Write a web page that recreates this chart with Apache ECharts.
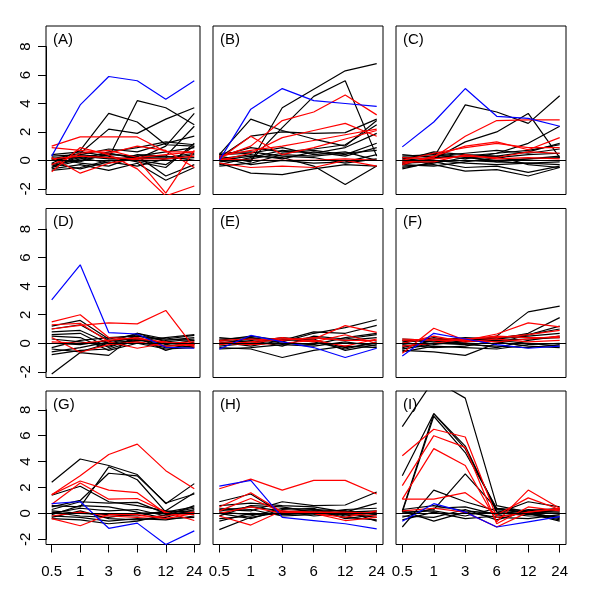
<!DOCTYPE html>
<html><head><meta charset="utf-8">
<script src="https://cdn.jsdelivr.net/npm/echarts@6/dist/echarts.min.js"></script>
<style>html,body{margin:0;padding:0;background:#fff}#c{width:600px;height:607px}</style>
</head><body><div id="c"></div>
<script>
const xLabels = ['0.5','1','3','6','12','24'];
const yTicks = [-2,0,2,4,6,8];
const panelNames = ['(A)','(B)','(C)','(D)','(E)','(F)','(G)','(H)','(I)'];

const A_black = [
 [0.0,0.3,0.2,4.2,3.7,2.5],[-0.2,0.7,3.3,2.7,1.1,1.0],[0.1,0.5,2.2,1.9,2.9,3.7],[-0.3,0.2,0.5,0.1,1.0,3.3],
 [0.0,0.3,0.1,0.2,0.3,2.4],[-0.5,0.0,0.4,0.3,-1.1,-0.3],[-0.6,-0.3,-0.7,-0.2,-1.4,-0.5],[0.3,0.4,0.8,0.6,1.2,1.7],
 [-0.4,0.1,0.6,0.9,1.3,1.1],[0.2,-0.2,-0.4,0.3,0.6,0.9],[-0.7,-0.5,0.0,0.1,0.2,0.5],[0.4,0.6,0.3,-0.1,-0.5,1.2],
 [-0.2,-0.6,-0.1,-0.4,0.1,0.2],[0.1,0.2,-0.2,0.4,0.3,0.0],[-0.5,0.4,0.2,0.0,-0.3,1.0],[0.0,-0.1,0.5,0.2,0.1,0.4]];
const A_red = [[1.0,1.65,1.65,1.65,0.6,0.6],[0.9,0.7,0.5,1.0,0.7,-0.5],[-0.8,0.9,0.4,-0.6,-2.5,-1.8],
 [0.2,-0.9,-0.2,0.1,-2.3,0.7],[0.1,0.3,0.2,0.1,0.1,0.3],[-0.3,0.5,0.7,0.2,0.4,0.6]];
const A_blue = [[0.3,3.9,5.9,5.6,4.3,5.6]];

const B_black = [
 [0.3,-0.1,3.7,5.0,6.3,6.8],[0.1,0.0,2.3,4.5,5.6,0.3],[0.4,2.9,2.1,1.5,1.0,2.8],[0.2,1.7,2.0,1.9,1.95,2.9],
 [-0.2,-0.9,-1.0,-0.6,-0.3,-0.4],[0.0,0.3,0.2,-0.4,-1.7,-0.4],[0.3,0.9,0.6,0.8,1.1,2.5],[-0.3,0.2,0.7,0.5,0.9,1.9],
 [0.1,0.4,0.1,0.6,0.3,0.9],[0.5,0.6,0.3,0.2,-0.2,0.1],[-0.4,-0.2,0.4,0.3,0.5,0.7],[0.2,-0.3,0.0,-0.2,-0.1,0.4],
 [-0.1,0.1,0.5,0.7,0.4,1.2],[0.4,0.5,0.9,0.4,0.6,0.0]];
const B_red = [[0.2,1.0,2.8,3.4,4.6,3.2],[0.0,0.5,1.6,2.1,2.6,1.7],[0.1,1.7,0.4,0.9,1.5,2.1],
 [-0.2,-0.5,-0.4,-0.5,0.0,-0.4],[0.1,0.0,0.0,0.0,0.1,0.0],[0.3,0.7,1.0,1.4,1.8,2.2]];
const B_blue = [[0.0,3.6,5.05,4.2,4.0,3.8]];

const C_black = [
 [-0.3,0.2,3.9,3.4,2.6,4.55],[-0.2,0.1,1.3,2.0,3.3,0.2],[0.0,0.2,0.3,0.5,1.2,2.4],[-0.4,-0.3,-0.75,-0.65,-1.1,-0.5],
 [-0.2,-0.1,-0.5,-0.4,-0.85,-0.4],[0.3,0.4,0.1,0.5,0.7,1.1],[-0.5,-0.2,0.2,0.3,0.6,1.2],[0.2,0.3,0.5,0.7,0.5,0.8],
 [-0.1,0.0,-0.2,-0.3,-0.2,-0.3],[0.1,0.5,0.2,0.0,0.1,0.3],[-0.3,-0.4,-0.1,0.2,0.4,0.5],[0.4,0.2,0.3,-0.1,-0.2,-0.1],
 [-0.6,-0.1,0.0,-0.1,0.1,0.2],[0.0,0.6,0.4,0.3,-0.3,-0.5]];
const C_red = [[-0.2,0.2,1.7,2.8,2.85,2.85],[-0.3,0.3,1.0,1.3,0.75,1.6],[0.0,0.5,0.9,1.2,0.9,0.9],
 [0.2,0.1,0.3,0.2,0.6,0.5],[-0.1,-0.1,0.4,0.1,0.2,0.1]];
const C_blue = [[0.95,2.7,5.05,3.1,2.95,2.4]];

const D_black = [
 [-2.15,-0.65,-0.85,0.7,0.3,0.55],[1.2,1.6,0.3,0.6,-0.1,0.2],[0.8,0.9,0.0,0.5,0.2,0.4],[0.6,0.7,-0.3,0.4,-0.5,0.1],
 [-0.8,-0.5,-0.4,0.2,0.0,-0.1],[-0.6,-0.3,0.1,0.7,0.1,0.3],[0.3,0.1,-0.2,0.3,-0.2,0.0],[-0.3,0.2,0.4,0.5,0.3,0.2],
 [0.0,-0.1,0.2,0.1,-0.3,-0.2],[-0.4,-0.6,0.0,0.2,0.4,0.6],[1.0,1.3,0.2,0.3,0.0,-0.1],[0.5,0.4,-0.5,0.0,-0.4,-0.3]];
const D_red = [[1.5,2.0,0.4,0.3,0.1,-0.2],[1.0,1.25,1.43,1.36,2.3,-0.3],[0.4,-0.63,-0.1,0.1,-0.2,-0.1],
 [1.3,1.4,0.1,-0.35,0.0,-0.1],[0.1,0.0,0.2,0.4,0.0,0.1]];
const D_blue = [[3.05,5.5,0.75,0.65,-0.28,-0.35]];

const E_black = [
 [0.3,0.4,0.1,0.7,1.1,1.65],[0.2,0.5,0.2,0.8,0.7,1.25],[-0.3,-0.4,-1.0,-0.5,-0.2,-0.3],[0.4,0.2,-0.2,0.5,0.3,0.6],
 [-0.2,0.0,0.3,0.1,-0.4,0.1],[0.0,0.3,0.2,0.4,0.2,0.4],[-0.4,-0.3,-0.1,-0.2,0.1,-0.2],[0.2,0.1,0.4,0.2,-0.3,0.0],
 [-0.1,0.4,0.0,-0.1,0.4,0.7],[0.1,-0.2,0.2,0.3,-0.5,-0.1]];
const E_red = [[0.1,0.0,0.3,0.3,1.24,0.77],[0.2,0.3,0.2,0.4,0.2,0.2],[-0.1,0.1,0.4,0.1,0.6,0.0],[0.0,-0.1,0.0,0.2,-0.2,0.3]];
const E_blue = [[-0.4,0.55,0.1,-0.3,-1.0,-0.35]];

const F_black = [
 [-0.2,0.0,0.1,0.5,2.2,2.6],[-0.4,-0.1,0.2,0.3,0.7,1.8],[-0.5,-0.6,-0.85,0.0,0.6,1.2],[0.1,0.3,0.2,0.4,0.6,1.0],
 [-0.3,0.2,0.0,-0.3,0.2,0.5],[0.2,0.1,0.3,0.1,-0.2,-0.3],[-0.6,-0.2,-0.3,-0.4,-0.1,0.0],[0.0,0.4,0.1,0.2,0.3,0.4],
 [-0.1,-0.3,-0.2,0.2,0.0,-0.2],[0.3,0.2,0.4,0.3,0.5,0.7],[-0.4,0.0,-0.1,-0.2,-0.3,-0.1]];
const F_red = [[-0.7,1.05,0.2,0.65,1.43,1.15],[0.2,0.3,0.3,0.4,0.6,0.9],[-0.2,0.0,0.3,0.5,0.4,0.4],
 [0.3,0.2,0.2,0.1,0.3,0.5],[0.0,0.5,0.1,0.3,0.1,0.2]];
const F_blue = [[-0.9,0.7,0.3,-0.1,-0.35,-0.2]];

const G_black = [
 [2.4,4.2,3.7,3.0,0.75,2.3],[0.5,1.0,3.1,2.9,0.8,1.5],[1.4,2.1,0.9,0.6,0.2,1.6],[0.6,0.5,3.6,2.6,0.1,0.5],
 [0.3,0.9,0.8,0.85,0.0,0.4],[-0.3,0.2,-0.4,-0.5,-0.3,0.3],[-0.2,-0.3,-0.6,-0.4,-0.5,-0.2],[0.0,0.4,0.2,0.3,-0.2,0.6],
 [-0.4,-0.5,-0.8,-0.6,-0.1,0.1],[0.2,0.0,-0.1,-0.2,0.2,0.0],[-0.1,0.6,0.5,0.1,-0.4,-0.3],[0.1,-0.2,-0.3,0.0,0.1,0.2]];
const G_red = [[1.45,2.9,4.55,5.35,3.3,1.9],[1.45,2.5,1.8,1.6,0.0,-0.1],[0.7,2.35,1.1,1.15,0.1,-0.55],
 [-0.4,-0.95,-0.1,-0.1,-0.4,0.0],[-0.2,0.1,-0.2,-0.3,-0.2,0.1]];
const G_blue = [[0.75,0.92,-1.15,-0.75,-2.4,-1.35]];

const H_black = [
 [-1.25,-0.3,0.1,0.3,0.2,-0.1],[0.3,0.2,0.9,0.6,0.65,1.65],[0.9,1.5,0.0,0.2,-0.3,-0.5],[0.6,0.8,0.6,0.5,0.1,0.8],
 [-0.4,-0.2,0.4,0.3,-0.2,0.1],[0.2,0.5,0.2,-0.2,0.0,-0.3],[-0.6,0.0,-0.1,0.0,0.3,0.4],[0.0,-0.4,0.3,0.4,-0.4,-0.1],
 [0.4,0.3,-0.2,-0.1,0.1,0.2],[-0.2,0.6,0.5,0.1,-0.1,0.0],[0.1,-0.1,0.0,0.2,0.2,-0.6]];
const H_red = [[1.9,2.65,1.8,2.55,2.55,1.5],[0.5,1.6,0.1,0.0,-0.55,-0.3],[-0.2,-0.9,0.2,0.1,0.0,-0.2],
 [0.2,1.15,0.1,0.0,-0.3,0.2],[0.0,0.5,0.0,0.1,0.1,0.0]];
const H_blue = [[2.1,2.55,-0.3,-0.55,-0.8,-1.2]];

const I_black = [
 [6.7,10.3,8.9,0.6,0.1,0.0],[2.9,7.7,5.0,0.3,0.0,-0.3],[0.2,7.7,5.2,0.1,-0.2,-0.2],[0.1,7.5,4.7,0.4,0.2,0.1],
 [-1.05,1.8,0.9,0.2,-0.1,0.3],[0.0,0.3,3.05,0.35,0.1,-0.4],[0.3,0.6,0.2,0.0,0.9,0.5],[-0.5,0.1,-0.4,-0.2,0.0,-0.5],
 [0.2,-0.6,0.1,-0.3,-0.4,-0.1],[-0.3,0.4,0.5,-0.1,0.3,0.2],[0.1,0.2,-0.2,0.4,0.0,-0.6],[-0.2,-0.3,0.3,-0.5,0.2,0.4]];
const I_red = [[4.45,6.5,5.9,-0.3,0.1,0.35],[2.15,6.0,5.1,-0.8,0.5,0.2],[1.1,5.0,3.7,-0.65,1.8,0.4],
 [1.1,1.1,1.6,-0.1,1.2,0.3],[0.2,0.4,0.1,-1.05,0.1,0.4]];
const I_blue = [[-0.6,0.75,0.1,-1.05,-0.65,-0.25]];

const panels = [
 [A_black,A_red,A_blue],[B_black,B_red,B_blue],[C_black,C_red,C_blue],
 [D_black,D_red,D_blue],[E_black,E_red,E_blue],[F_black,F_red,F_blue],
 [G_black,G_red,G_blue],[H_black,H_red,H_blue],[I_black,I_red,I_blue]];

const colLeft = [46, 213, 396], colWidth = [154, 170, 170];
const rowTop = [26, 208.5, 391], rowHeight = [168.5, 169, 153.5];
const colors = ['#000000', '#ff0000', '#0000ff'];
const FONT = 'Liberation Sans, Arial, Helvetica, sans-serif';
const xPos = xLabels.map((_, i) => i + 1);
const XMIN = 0.8, XMAX = 6.2, YMIN = -2.4, YMAX = 9.45;

const grids = [], xAxes = [], yAxes = [], series = [], titles = [];
const hidden = {show: false};
function addAxisPair(grid, xa, ya) {
  const gi = grids.length;
  grids.push(grid);
  xAxes.push(Object.assign({gridIndex: gi}, xa));
  yAxes.push(Object.assign({gridIndex: gi}, ya));
  return gi;
}

panels.forEach((groups, p) => {
  const r = Math.floor(p / 3), c = p % 3;
  const gi = addAxisPair(
    {left: colLeft[c], top: rowTop[r], width: colWidth[c], height: rowHeight[r],
     show: true, borderColor: '#000', borderWidth: 1, backgroundColor: 'transparent'},
    {type: 'value', min: XMIN, max: XMAX, axisLine: hidden, axisTick: hidden, axisLabel: hidden, splitLine: hidden},
    {type: 'value', min: YMIN, max: YMAX, axisLine: hidden, axisTick: hidden, axisLabel: hidden, splitLine: hidden});
  titles.push({text: panelNames[p], left: colLeft[c] + 7, top: rowTop[r] + 6, padding: 0,
    textStyle: {fontSize: 15, fontWeight: 'normal', color: '#000', fontFamily: FONT}});
  let first = true;
  groups.forEach((lines, g) => {
    lines.forEach(vals => {
      const s = {type: 'line', xAxisIndex: gi, yAxisIndex: gi, symbol: 'none', silent: true, clip: true,
        lineStyle: {color: colors[g], width: 1.2}, data: vals.map((v, j) => [xPos[j], v]), z: 2 + g};
      if (first) {
        s.markLine = {silent: true, symbol: 'none', label: {show: false},
          lineStyle: {color: '#000', type: 'solid', width: 1.2}, data: [{yAxis: 0}]};
        first = false;
      }
      series.push(s);
    });
  });
});

// bottom tick axes (row 3), spanning first to last tick like R's axis()
for (let c = 0; c < 3; c++) {
  const w = colWidth[c], pxPerUnit = w / (XMAX - XMIN);
  addAxisPair(
    {left: colLeft[c] + (xPos[0] - XMIN) * pxPerUnit, top: rowTop[2], width: (xPos[5] - xPos[0]) * pxPerUnit,
     height: rowHeight[2], show: false},
    {type: 'value', min: xPos[0], max: xPos[xPos.length - 1], interval: 1, position: 'bottom',
     axisLine: {show: true, onZero: false, lineStyle: {color: '#000', width: 1}},
     axisTick: {show: true, length: 8, lineStyle: {color: '#000', width: 1}},
     axisLabel: {show: true, margin: 20, color: '#000', fontSize: 15, fontFamily: FONT,
       formatter: v => xLabels[Math.round(v) - 1]},
     splitLine: hidden},
    {type: 'value', min: 0, max: 1, axisLine: hidden, axisTick: hidden, axisLabel: hidden, splitLine: hidden});
}
// left tick axes (column 1)
for (let r = 0; r < 3; r++) {
  const h = rowHeight[r], pxPerUnit = h / (YMAX - YMIN);
  const yTop = yTicks[yTicks.length - 1], yBot = yTicks[0];
  addAxisPair(
    {left: colLeft[0], top: rowTop[r] + (YMAX - yTop) * pxPerUnit, width: colWidth[0],
     height: (yTop - yBot) * pxPerUnit, show: false},
    {type: 'value', min: 0, max: 1, axisLine: hidden, axisTick: hidden, axisLabel: hidden, splitLine: hidden},
    {type: 'value', min: yBot, max: yTop, interval: 2, position: 'left',
     axisLine: {show: true, onZero: false, lineStyle: {color: '#000', width: 1}},
     axisTick: {show: true, length: 8, lineStyle: {color: '#000', width: 1}},
     axisLabel: {show: true, rotate: 90, margin: 13, color: '#000', fontSize: 15, fontFamily: FONT},
     splitLine: hidden});
}

const chart = echarts.init(document.getElementById('c'), null, {renderer: 'canvas'});
chart.setOption({animation: false, backgroundColor: '#fff', title: titles, grid: grids,
  xAxis: xAxes, yAxis: yAxes, series: series});
</script></body></html>
